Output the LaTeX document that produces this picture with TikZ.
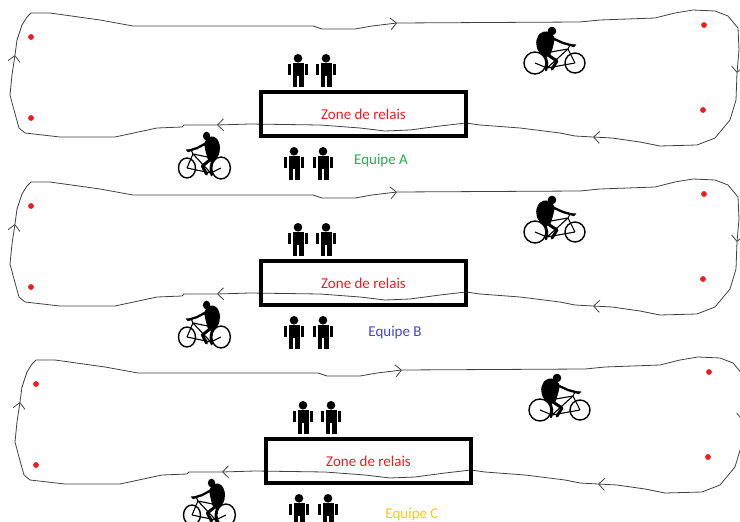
\documentclass[tikz,border=0pt]{standalone}
\usepackage{fontspec}
\setmainfont{Carlito}
\usepackage{tikz}
\usetikzlibrary{arrows.meta}
\definecolor{relaisrouge}{RGB}{237,28,36}
\definecolor{equipevert}{RGB}{34,177,76}
\definecolor{equipebleu}{RGB}{63,72,204}
\definecolor{equipejaune}{RGB}{255,201,14}
\tikzstyle{piste}=[draw=black!75, line width=0.8pt, line join=round]
\tikzstyle{sens}=[-{Straight Barb[length=6pt, width=12pt]}]
\tikzstyle{zone}=[rectangle, draw, black, line width=3.5pt, minimum width=205pt, minimum height=44pt, text=relaisrouge, font=\fontsize{15}{17}\selectfont]
\tikzstyle{equipe}=[inner sep=0pt, font=\fontsize{15}{17}\selectfont]
% the track, drawn piece by piece so that each piece ends with its arrow
\newcommand*{\Piste}{%
    \draw[piste, sens] (31,13) -- (50,13) -- (100,20) -- (133,26) -- (313,26) -- (322,29) -- (355,29)
    -- (372,26) -- (397,23);
    \draw[piste, sens] (397,23) -- (580,22) -- (600,20) -- (655,18) -- (675,13) -- (693,10) -- (715,11)
    -- (728,16) -- (738,28) -- (739,50) -- (737,73);
    \draw[piste, sens] (737,73) -- (736,100) -- (730,120) -- (715,138) -- (697,145) -- (660,146)
    -- (640,142) -- (612,138) -- (593,137);
    \draw[piste, sens] (593,137) -- (575,136) -- (560,133) -- (520,128) -- (480,125) -- (466,123)
    -- (440,126) -- (410,130) -- (385,131) -- (360,128) -- (320,125) -- (250,124) -- (217,125);
    \draw[piste, sens] (217,125) -- (184,125) -- (182,127) -- (157,128) -- (115,137) -- (60,137)
    -- (25,133) -- (19,128) -- (14,110) -- (10,95) -- (12,75) -- (15,55);
    \draw[piste] (15,55) -- (17,40) -- (22,25) -- (27,17) -- (31,13);
}
% a runner waiting at the relay zone, #1 = top of the head
\newcommand*{\Bonhomme}[1]{%
    \begin{scope}[shift={(#1)}]
        \fill (0,4.3) circle (4.3pt);
        \fill (-5.5,9) rectangle (5.5,22);
        \fill (-9.8,9.5) rectangle (-6.6,21);
        \fill (6.6,9.5) rectangle (9.8,21);
        \fill (-5.5,22) rectangle (-0.6,33);
        \fill (0.6,22) rectangle (5.5,33);
    \end{scope}
}
% a rider on his bike, #1 = rear hub, #2 = xscale (negative: riding to the left)
\newcommand*{\Cycliste}[2]{%
    \begin{scope}[shift={(#1)}, xscale=#2]
        \draw[line width=1.4pt] (0,0) circle (11pt) (40,0) circle (10pt);
        \draw[line width=1.1pt, line join=round] (0,0) -- (12,5) -- (40,0) (12,5) -- (10,-10) -- (33,-14)
        -- (12,5) (33,-14) -- (40,0) (33,-14) -- (35,-18) -- (41,-18) (6,-11) -- (13,-11);
        \fill (17,-32) circle (4.3pt);
        \fill[rounded corners=1.5pt] (1,-22) -- (4,-29) -- (10,-32) -- (16,-30) -- (20,-25) -- (18,-16)
        -- (15,-7) -- (8,-6) -- (2,-14) -- cycle;
        \draw[line width=2.3pt, line cap=round, line join=round] (17,-25) -- (28,-20) -- (39,-17);
        \draw[line width=3pt, line cap=round, line join=round] (13,-8) -- (22,-2) -- (17,6);
        \draw[line width=2.6pt, line cap=round, line join=round] (10,-8) -- (12,0) -- (11,7);
    \end{scope}
}
% one team: track, posts, relay zone, runners, riders and label
\newcommand*{\Relais}[4]{%
    \Piste
    \fill[relaisrouge] (31,37) circle (2.9pt) (31,118) circle (2.9pt) (704,25) circle (2.9pt)
    (703,110) circle (2.9pt);
    \node[zone] (zone#1) at (363.5,114) {Zone de relais};
    \Bonhomme{298,54}
    \Bonhomme{326,54}
    \Bonhomme{294,147}
    \Bonhomme{323,147}
    \Cycliste{535,63}{1}
    \Cycliste{221,168}{-0.85}
    \node[equipe, text=#2] (equipe#1) at (#4) {#3};
}
\begin{document}
\begin{tikzpicture}[x=1pt, y=-1pt]
    \useasboundingbox (0,0) rectangle (740,522);
    \begin{scope}
        \Relais{A}{equipevert}{Equipe A}{381,161}
    \end{scope}
    \begin{scope}[shift={(0,169)}]
        \Relais{B}{equipebleu}{Equipe B}{395,164}
    \end{scope}
    \begin{scope}[shift={(5,347)}]
        \Relais{C}{equipejaune}{Equipe C}{407,168}
    \end{scope}
\end{tikzpicture}
\end{document}
